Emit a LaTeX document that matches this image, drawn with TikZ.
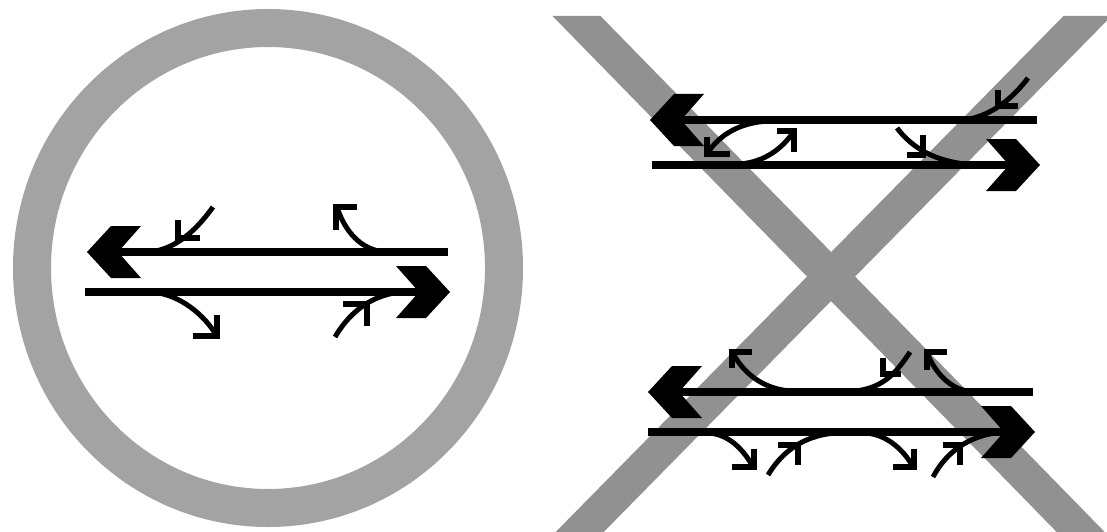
\documentclass[tikz,border=0pt]{standalone}
\definecolor{ringgray}{gray}{0.64}
\definecolor{bandgray}{gray}{0.57}
\tikzset{
  mainline/.style={line width=7.5pt},
  branch/.style={line width=5pt},
  barb/.style={line width=5.5pt, line join=miter},
  band/.style={fill=bandgray},
  chevron/.pic={\fill (0,0) -- (24,-26) -- (54,-26) -- (31,0) -- (54,26) -- (24,26) -- cycle;},
}
\begin{document}
\begin{tikzpicture}[x=1pt,y=-1pt]
\useasboundingbox (0,0) rectangle (1107,532);
\fill[white] (0,0) rectangle (1107,532);
% ring of the left panel
\draw[ringgray, line width=38pt] (268,268) ellipse [x radius=236, y radius=240];
% X of the right panel
\begin{scope}
  \clip (0,0) rectangle (1107,532);
  \fill[band] (552.5,16) -- (600.5,16) -- (1112.5,540) -- (1064.5,540) -- cycle;
  \fill[band] (1063.5,16) -- (1111.5,16) -- (595.8,540) -- (547.8,540) -- cycle;
\end{scope}
% ---------------- left panel ----------------
\pic at (87,252) {chevron};
\draw[mainline] (115,252) -- (448,252);
\pic[xscale=-1] at (450,292) {chevron};
\draw[mainline] (85,292) -- (422,292);
\draw[branch] (213,207) .. controls (195,232) and (175,249) .. (150,252);
\draw[barb] (178,220) -- (178,238) -- (200,238);
\draw[branch] (385,252) .. controls (360,250) and (345,230) .. (338,210);
\draw[barb] (357,207) -- (336,207) -- (336,230);
\draw[branch] (150,292) .. controls (175,293) and (200,310) .. (215,333);
\draw[barb] (193,336) -- (217,336) -- (217,315);
\draw[branch] (335,337) .. controls (348,315) and (368,296) .. (400,292);
\draw[barb] (343,304) -- (367,304) -- (367,326);
% ---------------- right panel, upper pair ----------------
\pic at (650,120) {chevron};
\draw[mainline] (678,120) -- (1037,120);
\pic[xscale=-1] at (1040,165) {chevron};
\draw[mainline] (652,165) -- (1012,165);
\draw[branch] (770,121) .. controls (740,122) and (720,135) .. (709,151);
\draw[barb] (707,137) -- (707,154) -- (730,154);
\draw[branch] (740,164) .. controls (765,162) and (782,148) .. (792,134);
\draw[barb] (777,131) -- (794,131) -- (794,152);
\draw[branch] (1028,78) .. controls (1015,95) and (995,115) .. (965,120);
\draw[barb] (998,90) -- (998,106) -- (1018,106);
\draw[branch] (897,128) .. controls (910,145) and (930,160) .. (965,164);
\draw[barb] (923,135) -- (923,155) -- (907,155);
% ---------------- right panel, lower pair ----------------
\pic at (648,392) {chevron};
\draw[mainline] (676,392) -- (1033,392);
\pic[xscale=-1] at (1035,432) {chevron};
\draw[mainline] (648,432) -- (1007,432);
\draw[branch] (790,391) .. controls (765,389) and (745,375) .. (734,355);
\draw[barb] (752,352) -- (732,352) -- (732,368);
\draw[branch] (910,352) .. controls (898,370) and (885,388) .. (855,391);
\draw[barb] (883,358) -- (883,374) -- (901,374);
\draw[branch] (968,391) .. controls (950,389) and (935,372) .. (928,355);
\draw[barb] (947,352) -- (927,352) -- (927,370);
\draw[branch] (708,433) .. controls (728,434) and (742,448) .. (752,465);
\draw[barb] (732,467) -- (754,467) -- (754,449);
\draw[branch] (768,475) .. controls (780,455) and (800,436) .. (835,433);
\draw[barb] (778,445) -- (798,445) -- (798,465);
\draw[branch] (865,433) .. controls (885,434) and (902,448) .. (912,465);
\draw[barb] (893,467) -- (914,467) -- (914,449);
\draw[branch] (933,477) .. controls (943,458) and (962,438) .. (995,433);
\draw[barb] (943,445) -- (960,445) -- (960,465);
\end{tikzpicture}
\end{document}
